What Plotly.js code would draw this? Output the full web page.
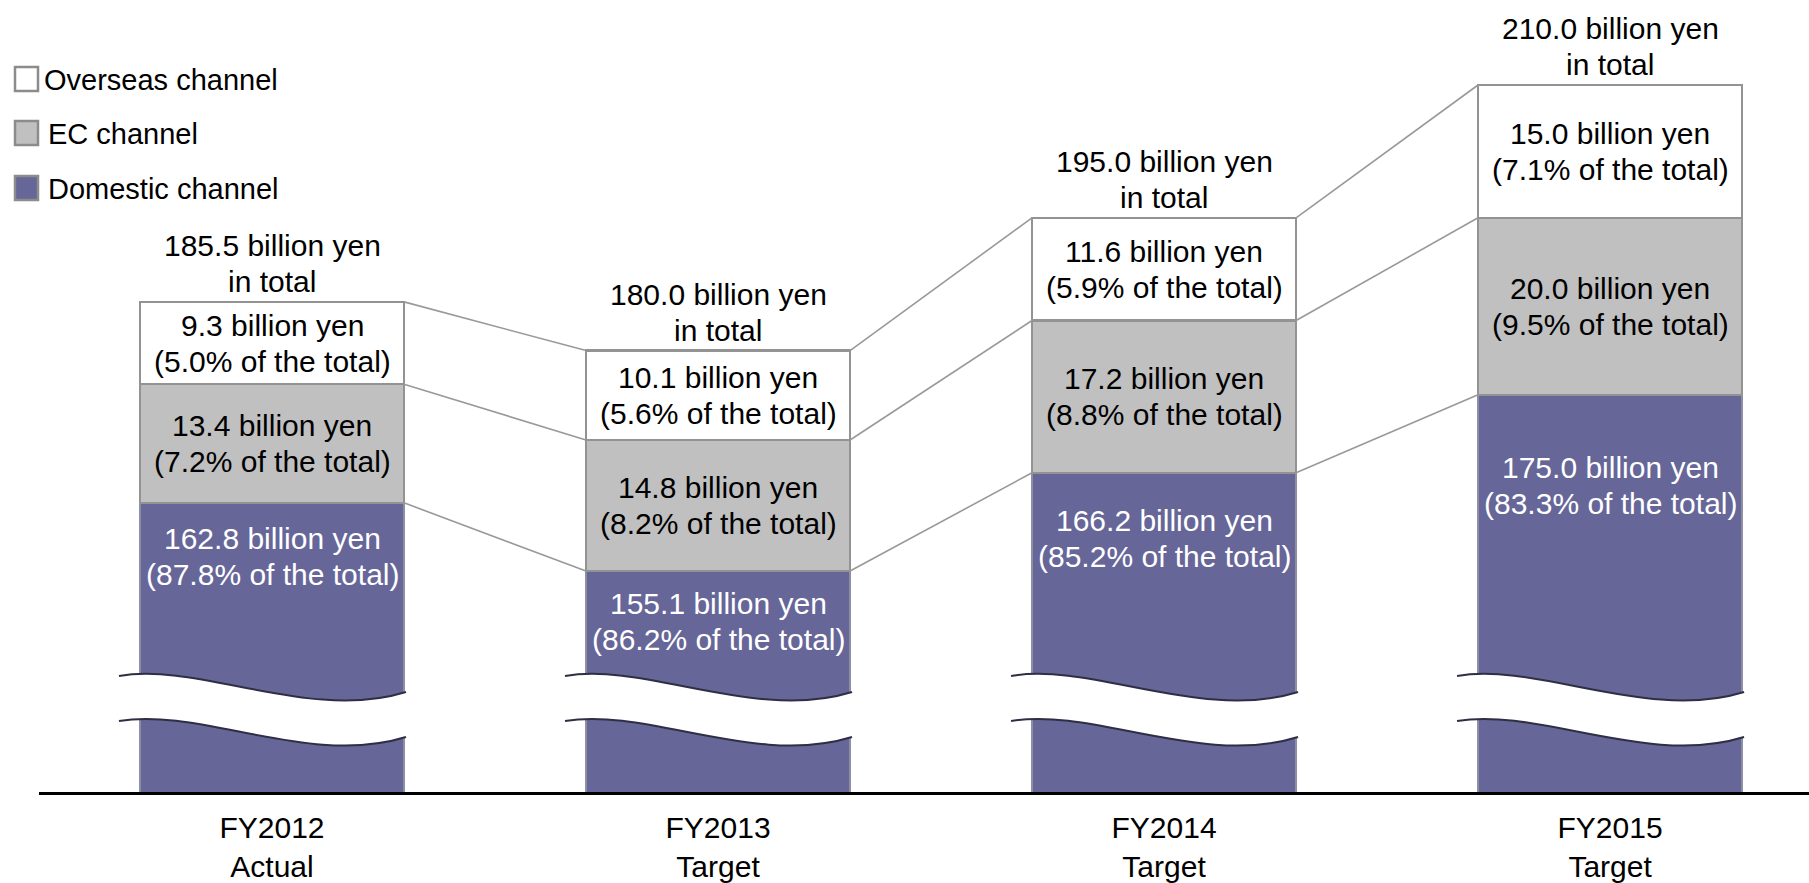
<!DOCTYPE html>
<html>
<head>
<meta charset="utf-8">
<script src="https://cdn.plot.ly/plotly-3.0.1.min.js"></script>
<style>html,body{margin:0;padding:0;background:#fff;}#chart{width:1809px;height:883px;}</style>
</head>
<body>
<div id="chart"></div>
<script>
// ---- data ----
const categories = ['FY2012', 'FY2013', 'FY2014', 'FY2015'];
const periodTypes = ['Actual', 'Target', 'Target', 'Target'];
const domestic = [162.8, 155.1, 166.2, 175.0];
const ec = [13.4, 14.8, 17.2, 20.0];
const overseas = [9.3, 10.1, 11.6, 15.0];
const totals = [185.5, 180.0, 195.0, 210.0];
const domesticPct = ['87.8%', '86.2%', '85.2%', '83.3%'];
const ecPct = ['7.2%', '8.2%', '8.8%', '9.5%'];
const overseasPct = ['5.0%', '5.6%', '5.9%', '7.1%'];
const seriesNames = ['Domestic channel', 'EC channel', 'Overseas channel'];

// ---- styling / layout ----
const FONT = 'Liberation Sans, Arial, sans-serif';
const W = 1809, H = 883;
const ML = 39, MB = 91, MT = 0, MR = 0;
const plotW = W - ML - MR, plotH = H - MT - MB;
const xRange = [-0.5224, 3.446];
const yRange = [130.14, 219.6];
const bargap = 0.408;
const halfW = (1 - bargap) / 2;
const pxPerX = plotW / (xRange[1] - xRange[0]);
const domLabelOffset = [54, 50, 66, 91];
const colors = { dom: '#666699', ec: '#c0c0c0', ov: '#ffffff', edge: '#939393' };

const xs = categories.map((_, i) => i);
const fmt = v => v.toFixed(1) + ' billion yen';

const traces = [
  { type: 'bar', x: xs, y: domestic, name: seriesNames[0], marker: { color: colors.dom, line: { color: '#8e8ea2', width: 2.5 } }, hoverinfo: 'skip' },
  { type: 'bar', x: xs, y: ec, name: seriesNames[1], marker: { color: colors.ec, line: { color: colors.edge, width: 2.5 } }, hoverinfo: 'skip' },
  { type: 'bar', x: xs, y: overseas, name: seriesNames[2], marker: { color: colors.ov, line: { color: colors.edge, width: 2.5 } }, hoverinfo: 'skip' }
];

// connector lines between bars
const cx = [], cy = [];
for (let i = 0; i < xs.length - 1; i++) {
  const levels = [
    [totals[i], totals[i + 1]],
    [domestic[i] + ec[i], domestic[i + 1] + ec[i + 1]],
    [domestic[i], domestic[i + 1]]
  ];
  levels.forEach(([a, b]) => {
    cx.push(xs[i] + halfW, xs[i + 1] - halfW, null);
    cy.push(a, b, null);
  });
}
traces.push({ type: 'scatter', mode: 'lines', x: cx, y: cy, line: { color: '#999999', width: 1.6 }, hoverinfo: 'skip', showlegend: false });

const annotations = [];
function lbl(x, y, text, shift, color, size) {
  annotations.push({ x: x, y: y, xref: 'x', yref: 'y', text: text, showarrow: false, yshift: shift,
    font: { family: FONT, size: size || 30, color: color }, xanchor: 'center', yanchor: 'middle' });
}
xs.forEach((x, i) => {
  const ovMid = domestic[i] + ec[i] + overseas[i] / 2;
  const ecMid = domestic[i] + ec[i] / 2;
  lbl(x, ovMid, fmt(overseas[i]), 18, '#000');
  lbl(x, ovMid, '(' + overseasPct[i] + ' of the total)', -18, '#000');
  lbl(x, ecMid, fmt(ec[i]), 18, '#000');
  lbl(x, ecMid, '(' + ecPct[i] + ' of the total)', -18, '#000');
  lbl(x, domestic[i], fmt(domestic[i]), -domLabelOffset[i] + 18, '#fff');
  lbl(x, domestic[i], '(' + domesticPct[i] + ' of the total)', -domLabelOffset[i] - 18, '#fff');
  lbl(x, totals[i], fmt(totals[i]), 56, '#000');
  lbl(x, totals[i], 'in total', 20, '#000');
});

// helpers px -> paper
const px2paperX = px => (px - ML) / plotW;
const py2paperY = py => (H - MB - py) / plotH;

// legend (manual)
const shapes = [];
const legendItems = [
  { name: seriesNames[2], fill: colors.ov, top: 67, textX: 42 },
  { name: seriesNames[1], fill: colors.ec, top: 121, textX: 46 },
  { name: seriesNames[0], fill: colors.dom, top: 176, textX: 46 }
];
legendItems.forEach(it => {
  shapes.push({ type: 'rect', xref: 'paper', yref: 'paper',
    x0: px2paperX(15), x1: px2paperX(38), y0: py2paperY(it.top), y1: py2paperY(it.top + 24),
    fillcolor: it.fill, line: { color: '#8c8c8c', width: 2.5 } });
  annotations.push({ xref: 'paper', yref: 'paper', x: px2paperX(it.textX), y: py2paperY(it.top + 13),
    text: it.name, showarrow: false, xanchor: 'left', yanchor: 'middle',
    font: { family: FONT, size: 29, color: '#000' } });
});

// axis-break waves
const waveTop = [[-21, 676], [60, 662], [170, 722], [266, 692]];
const gap = 45;
xs.forEach(x => {
  const left = x - halfW;
  const P = (p, dy) => (left + p[0] / pxPerX).toFixed(4) + ',' + py2paperY(p[1] + dy).toFixed(4);
  const t = waveTop;
  const topPath = 'M' + P(t[0], 0) + ' C' + P(t[1], 0) + ' ' + P(t[2], 0) + ' ' + P(t[3], 0);
  const botPath = 'M' + P(t[0], gap) + ' C' + P(t[1], gap) + ' ' + P(t[2], gap) + ' ' + P(t[3], gap);
  const fillPath = topPath + ' L' + P(t[3], gap) + ' C' + P(t[2], gap) + ' ' + P(t[1], gap) + ' ' + P(t[0], gap) + ' Z';
  shapes.push({ type: 'path', xref: 'x', yref: 'paper', path: fillPath, fillcolor: '#ffffff', line: { width: 0 } });
  shapes.push({ type: 'path', xref: 'x', yref: 'paper', path: topPath, line: { color: '#2e2e44', width: 2 } });
  shapes.push({ type: 'path', xref: 'x', yref: 'paper', path: botPath, line: { color: '#2e2e44', width: 2 } });
});

const layout = {
  width: W, height: H,
  margin: { l: ML, r: MR, t: MT, b: MB },
  paper_bgcolor: '#fff', plot_bgcolor: '#fff',
  barmode: 'stack', bargap: bargap,
  showlegend: false,
  xaxis: {
    type: 'linear', range: xRange, tickvals: xs,
    ticktext: categories.map((c, i) => c + '<br>' + periodTypes[i]),
    showgrid: false, zeroline: false, showline: true, linecolor: '#000', linewidth: 3,
    ticks: '', ticklabelstandoff: 7,
    tickfont: { family: FONT, size: 30, color: '#000' }, fixedrange: true
  },
  yaxis: { range: yRange, visible: false, showgrid: false, zeroline: false, fixedrange: true },
  annotations: annotations,
  shapes: shapes,
  font: { family: FONT }
};

Plotly.newPlot('chart', traces, layout, { displayModeBar: false, staticPlot: true });
</script>
</body>
</html>
